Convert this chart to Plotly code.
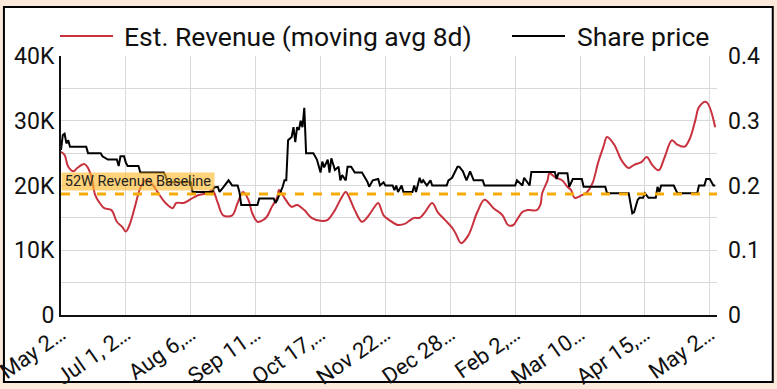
import datetime as dt
import plotly.graph_objects as go

START = dt.date(2024, 5, 26)

# Est. revenue (8-day moving average), day offset from START -> value
rev_day = [0, 2, 4, 7, 9, 13, 15, 17, 19, 21, 24, 28, 31, 34, 36, 38, 41, 44, 47, 50,
           54, 58, 62, 64, 68, 72, 76, 81, 84, 87, 90, 95, 98, 101, 104, 106, 109, 111,
           114, 117, 120, 121, 124, 128, 131, 135, 139, 145, 148, 152, 155, 158, 160,
           163, 167, 170, 174, 176, 179, 182, 187, 191, 194, 196, 199, 202, 206, 209,
           213, 217, 219, 222, 226, 231, 235, 240, 245, 248, 251, 253, 256, 259, 264,
           266, 267, 270, 271, 274, 278, 281, 283, 285, 289, 292, 295, 298, 301, 303,
           307, 311, 315, 318, 322, 325, 328, 331, 332, 335, 339, 342, 346, 349, 352,
           354, 358, 363]
rev_val = [25200, 24700, 22900, 22200, 22700, 23300, 22700, 21200, 18500, 17500, 16500,
           16200, 14400, 13600, 12900, 13900, 16700, 19600, 20800, 20400, 18800, 17300,
           16500, 17300, 17300, 17900, 18500, 18800, 19300, 17300, 15400, 15400, 17300,
           19000, 17800, 15800, 14400, 14500, 15100, 16700, 18200, 19300, 18100, 16700,
           17000, 16200, 15000, 14500, 14700, 16200, 17800, 19000, 18100, 16200, 14400,
           15100, 16700, 17300, 15400, 14700, 13900, 14100, 14700, 15000, 15000, 15900,
           17300, 15900, 14700, 13500, 12600, 11100, 12300, 15900, 17800, 16500, 15400,
           13900, 13900, 14700, 15900, 16200, 16200, 17000, 18800, 20800, 21900, 21300,
           20800, 19800, 19300, 18100, 18500, 19000, 20400, 23500, 26000, 27500, 26300,
           23900, 22700, 23200, 23600, 24400, 23200, 22400, 22400, 24400, 27000, 26300,
           26000, 27300, 30100, 32100, 32900, 29000]

# Share price, day offset from START -> value
px_day = [0, 1, 2, 3, 4, 5, 14, 15, 22, 23, 26, 31, 32, 33, 35, 36, 37, 43, 44, 57, 58,
          59, 72, 73, 84, 85, 87, 88, 90, 93, 95, 98, 99, 100, 109, 110, 118, 119, 120,
          123, 124, 125, 126, 128, 129, 130, 131, 132, 133, 134, 135, 136, 140, 142, 144,
          145, 146, 148, 149, 150, 152, 154, 155, 156, 158, 159, 161, 163, 167, 170, 171,
          173, 176, 177, 179, 180, 184, 185, 186, 187, 189, 190, 195, 196, 197, 199, 200,
          201, 203, 205, 206, 214, 215, 217, 220, 221, 223, 225, 227, 229, 234, 235, 252,
          253, 256, 257, 260, 261, 274, 275, 276, 281, 282, 284, 289, 290, 302, 303, 315,
          316, 317, 318, 320, 321, 323, 324, 326, 330, 331, 332, 333, 340, 342, 353, 354,
          357, 358, 360, 362, 363]
px_val = [0.255, 0.278, 0.28, 0.265, 0.27, 0.26, 0.26, 0.25, 0.25, 0.245, 0.24, 0.24,
          0.23, 0.245, 0.245, 0.235, 0.23, 0.23, 0.22, 0.22, 0.215, 0.205, 0.205, 0.19,
          0.19, 0.197, 0.198, 0.19, 0.197, 0.208, 0.2, 0.2, 0.19, 0.17, 0.17, 0.18, 0.18,
          0.173, 0.178, 0.198, 0.208, 0.208, 0.27, 0.275, 0.29, 0.267, 0.29, 0.286, 0.30,
          0.29, 0.32, 0.25, 0.25, 0.24, 0.22, 0.237, 0.228, 0.24, 0.22, 0.242, 0.224,
          0.229, 0.208, 0.216, 0.208, 0.229, 0.229, 0.22, 0.22, 0.206, 0.198, 0.208, 0.21,
          0.2, 0.205, 0.2, 0.2, 0.193, 0.2, 0.19, 0.2, 0.19, 0.19, 0.2, 0.19, 0.212, 0.204,
          0.208, 0.2, 0.208, 0.2, 0.2, 0.208, 0.212, 0.229, 0.229, 0.222, 0.208, 0.222,
          0.208, 0.208, 0.2, 0.2, 0.208, 0.2, 0.212, 0.2, 0.221, 0.221, 0.21, 0.219,
          0.219, 0.198, 0.21, 0.21, 0.198, 0.198, 0.188, 0.188, 0.17, 0.157, 0.159, 0.178,
          0.181, 0.181, 0.188, 0.181, 0.181, 0.198, 0.19, 0.2, 0.2, 0.188, 0.188, 0.2,
          0.2, 0.21, 0.21, 0.2, 0.2]

series_names = ["Est. Revenue (moving avg 8d)", "Share price"]

baseline_value = 18700
baseline_label = "52W Revenue Baseline"

tick_days = [0, 36, 72, 108, 144, 180, 216, 252, 288, 324, 360]
tick_text = ["May 2…", "Jul 1, 2…", "Aug 6,…", "Sep 11…", "Oct 17,…", "Nov 22…",
             "Dec 28…", "Feb 2,…", "Mar 10…", "Apr 15,…", "May 2…"]

left_ticks = [0, 10000, 20000, 30000, 40000]
left_text = ["0", "10K", "20K", "30K", "40K"]
right_ticks = [0, 0.1, 0.2, 0.3, 0.4]
right_text = ["0", "0.1", "0.2", "0.3", "0.4"]

to_date = lambda d: START + dt.timedelta(days=d)
rev_x = [to_date(d) for d in rev_day]
px_x = [to_date(d) for d in px_day]
tick_x = [to_date(d) for d in tick_days]

RED = "#c8323f"
ORANGE = "#f7ab0a"
FONT = "Roboto"
BG = "#fbeadb"
colors = [RED, "#000000"]

fig = go.Figure()
fig.add_trace(go.Scatter(x=rev_x, y=rev_val, mode="lines", name=series_names[0],
                         line=dict(color=RED, width=2), line_shape="spline"))
fig.add_trace(go.Scatter(x=px_x, y=px_val, mode="lines", name=series_names[1],
                         line=dict(color="#000000", width=2), yaxis="y2"))

fig.add_shape(type="line", xref="paper", x0=0, x1=1, yref="y", y0=baseline_value, y1=baseline_value,
              line=dict(color=ORANGE, width=3, dash="dash"))
fig.add_annotation(xref="paper", x=0, xanchor="left", yref="y", y=baseline_value, yshift=3,
                   yanchor="bottom", text=baseline_label, showarrow=False,
                   font=dict(family=FONT, size=14.5, color="#222"), width=150, height=15,
                   bgcolor="rgba(255,184,40,0.62)", borderpad=1)

# outer white card with black border
fig.add_shape(type="rect", xref="paper", yref="paper", x0=-0.087, x1=1.085, y0=-0.259, y1=1.189,
              line=dict(color="#000", width=2), fillcolor="white", layer="below")

# legend (line samples + labels) above the plot
leg_y = 1.077
leg_items = [(-0.0015, 0.0793, 0.093), (0.6875, 0.7683, 0.7835)]
for (lx0, lx1, tx), name, col in zip(leg_items, series_names, colors):
    fig.add_shape(type="line", xref="paper", yref="paper", x0=lx0, x1=lx1, y0=leg_y, y1=leg_y,
                  line=dict(color=col, width=2))
    fig.add_annotation(xref="paper", yref="paper", x=tx, y=leg_y, xanchor="left", yanchor="middle",
                       text=name, showarrow=False, font=dict(family=FONT, size=26.5, color="#111"))

fig.update_layout(
    width=777, height=389,
    margin=dict(l=61, r=60, t=56, b=74, autoexpand=False),
    paper_bgcolor=BG, plot_bgcolor="white",
    font=dict(family=FONT, color="#111"),
    showlegend=False,
    xaxis=dict(range=[to_date(0), to_date(364)], tickvals=tick_x, ticktext=tick_text,
               tickangle=-35, tickfont=dict(size=22, family=FONT), showgrid=True,
               gridcolor="#d9d9d9", gridwidth=1, showline=True, linecolor="#111", linewidth=2,
               ticks="", zeroline=False, automargin=False, ticklabeloverflow="allow",
               ticklabelstandoff=-4),
    yaxis=dict(range=[0, 40000], tickvals=left_ticks, ticktext=left_text,
               tickfont=dict(size=23, family=FONT), showgrid=True, gridcolor="#d9d9d9",
               minor=dict(dtick=5000, showgrid=True, gridcolor="#d9d9d9"),
               showline=True, linecolor="#111", linewidth=2, zeroline=False, ticks="",
               automargin=False),
    yaxis2=dict(range=[0, 0.4], tickvals=right_ticks, ticktext=right_text, overlaying="y",
                side="right", showgrid=False, tickfont=dict(size=23, family=FONT),
                zeroline=False, showline=False, ticks="", automargin=False,
                ticklabelstandoff=10),
)

fig.write_html("out.html", config={"displayModeBar": False},
               post_script="document.body.style.margin='0';document.body.style.background='%s';" % BG)
